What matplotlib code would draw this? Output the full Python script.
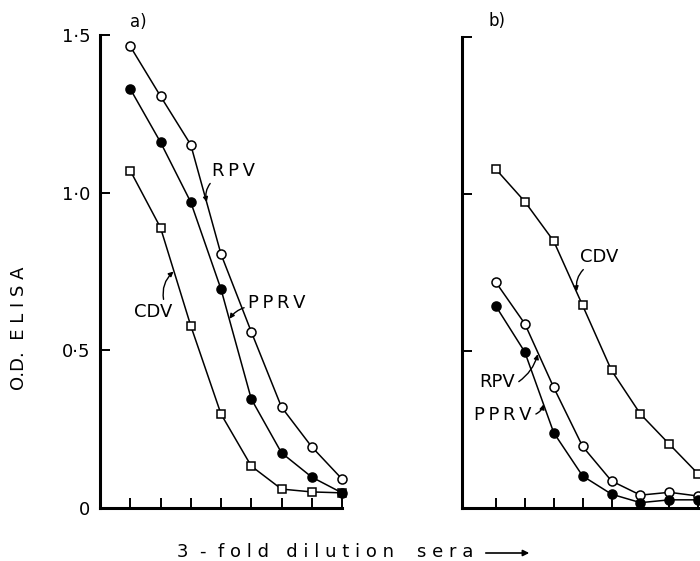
import matplotlib
matplotlib.use('Agg')
import matplotlib.pyplot as plt

# 3-fold dilution steps
dilution = [1, 2, 3, 4, 5, 6, 7, 8]

# panel a)
rpv_a = [1.464, 1.306, 1.152, 0.805, 0.559, 0.320, 0.194, 0.092]
pprv_a = [1.329, 1.160, 0.970, 0.694, 0.346, 0.175, 0.098, 0.048]
cdv_a = [1.070, 0.889, 0.578, 0.298, 0.133, 0.060, 0.051, 0.048]

# panel b)
rpv_b = [0.719, 0.587, 0.384, 0.196, 0.086, 0.041, 0.050, 0.038]
pprv_b = [0.643, 0.497, 0.240, 0.102, 0.044, 0.017, 0.026, 0.026]
cdv_b = [1.079, 0.976, 0.850, 0.645, 0.438, 0.299, 0.203, 0.108]

y_ticks = [0, 0.5, 1.0, 1.5]
y_tick_labels = ['0', '0·5', '1·0', '1·5']

W, H = 700, 561
TS = '\u2009'  # thin space, the original lettering is spread out


def box(l, t, r, b):
    # pixel box -> figure fraction
    return [l / W, 1 - b / H, (r - l) / W, (b - t) / H]


def draw_series(ax, cdv, rpv, pprv):
    kw = dict(color='black', lw=1.1, mec='black', mew=1.1, clip_on=False)
    ax.plot(dilution, cdv, marker='s', ms=6, mfc='white', **kw)
    ax.plot(dilution, rpv, marker='o', ms=6.5, mfc='white', **kw)
    ax.plot(dilution, pprv, marker='o', ms=6.5, mfc='black', **kw)


def style_axes(ax):
    for s in ['top', 'right']:
        ax.spines[s].set_visible(False)
    for s in ['left', 'bottom']:
        ax.spines[s].set_linewidth(2.2)
    ax.set_ylim(0, 1.5)
    ax.set_xticks(dilution)
    ax.set_xticklabels([])
    ax.set_yticks(y_ticks)
    ax.tick_params(direction='in', length=7.5, width=1.4, pad=7, labelsize=13)


def label(ax, text, xy, xytext, rad, relpos):
    ax.annotate(text, xy=xy, xytext=xytext, ha='center', va='center',
                fontsize=13,
                arrowprops=dict(arrowstyle='-|>', color='black', lw=1,
                                mutation_scale=7, shrinkA=1, shrinkB=0,
                                relpos=relpos,
                                connectionstyle='arc3,rad=%s' % rad))


fig = plt.figure(figsize=(7, 5.61), dpi=100)

ax_a = fig.add_axes(box(100, 35, 342, 508))
draw_series(ax_a, cdv_a, rpv_a, pprv_a)
style_axes(ax_a)
ax_a.set_xlim(0, 8)
ax_a.set_yticklabels(y_tick_labels)
ax_a.text(1.0, 1.54, 'a)', fontsize=12, ha='left', va='center')
label(ax_a, TS.join('RPV'), (3.53, 0.97), (4.4, 1.07), 0.3, (0.05, 0.0))
label(ax_a, TS.join('PPRV'), (4.28, 0.60), (5.85, 0.65), 0.2, (0.0, 0.3))
label(ax_a, 'CDV', (2.43, 0.75), (1.75, 0.62), -0.3, (0.8, 1.0))

ax_b = fig.add_axes(box(462, 37, 707, 508))
draw_series(ax_b, cdv_b, rpv_b, pprv_b)
style_axes(ax_b)
ax_b.set_xlim(-0.17, 8.3)
ax_b.set_yticklabels([])
ax_b.text(0.75, 1.55, 'b)', fontsize=12, ha='left', va='center')
label(ax_b, 'CDV', (3.8, 0.69), (4.57, 0.80), 0.3, (0.2, 0.0))
label(ax_b, 'RPV', (2.45, 0.49), (1.04, 0.40), 0.2, (1.0, 0.4))
label(ax_b, TS.join('PPRV'), (2.65, 0.33), (1.25, 0.295), 0.3, (1.0, 0.5))

fig.text(19 / W, 1 - 328 / H, 'O.D.  E L I S A', rotation=90,
         fontsize=13, ha='center', va='center')
fig.text(177 / W, 1 - 552 / H, '3  -  f o l d   d i l u t i o n    s e r a',
         fontsize=13, ha='left', va='center')
fig.add_artist(matplotlib.patches.FancyArrowPatch(
    (483 / W, 1 - 553 / H), (532 / W, 1 - 553 / H),
    transform=fig.transFigure, arrowstyle='-|>', mutation_scale=9,
    lw=1.2, color='black'))

fig.savefig('out.png', dpi=100)
